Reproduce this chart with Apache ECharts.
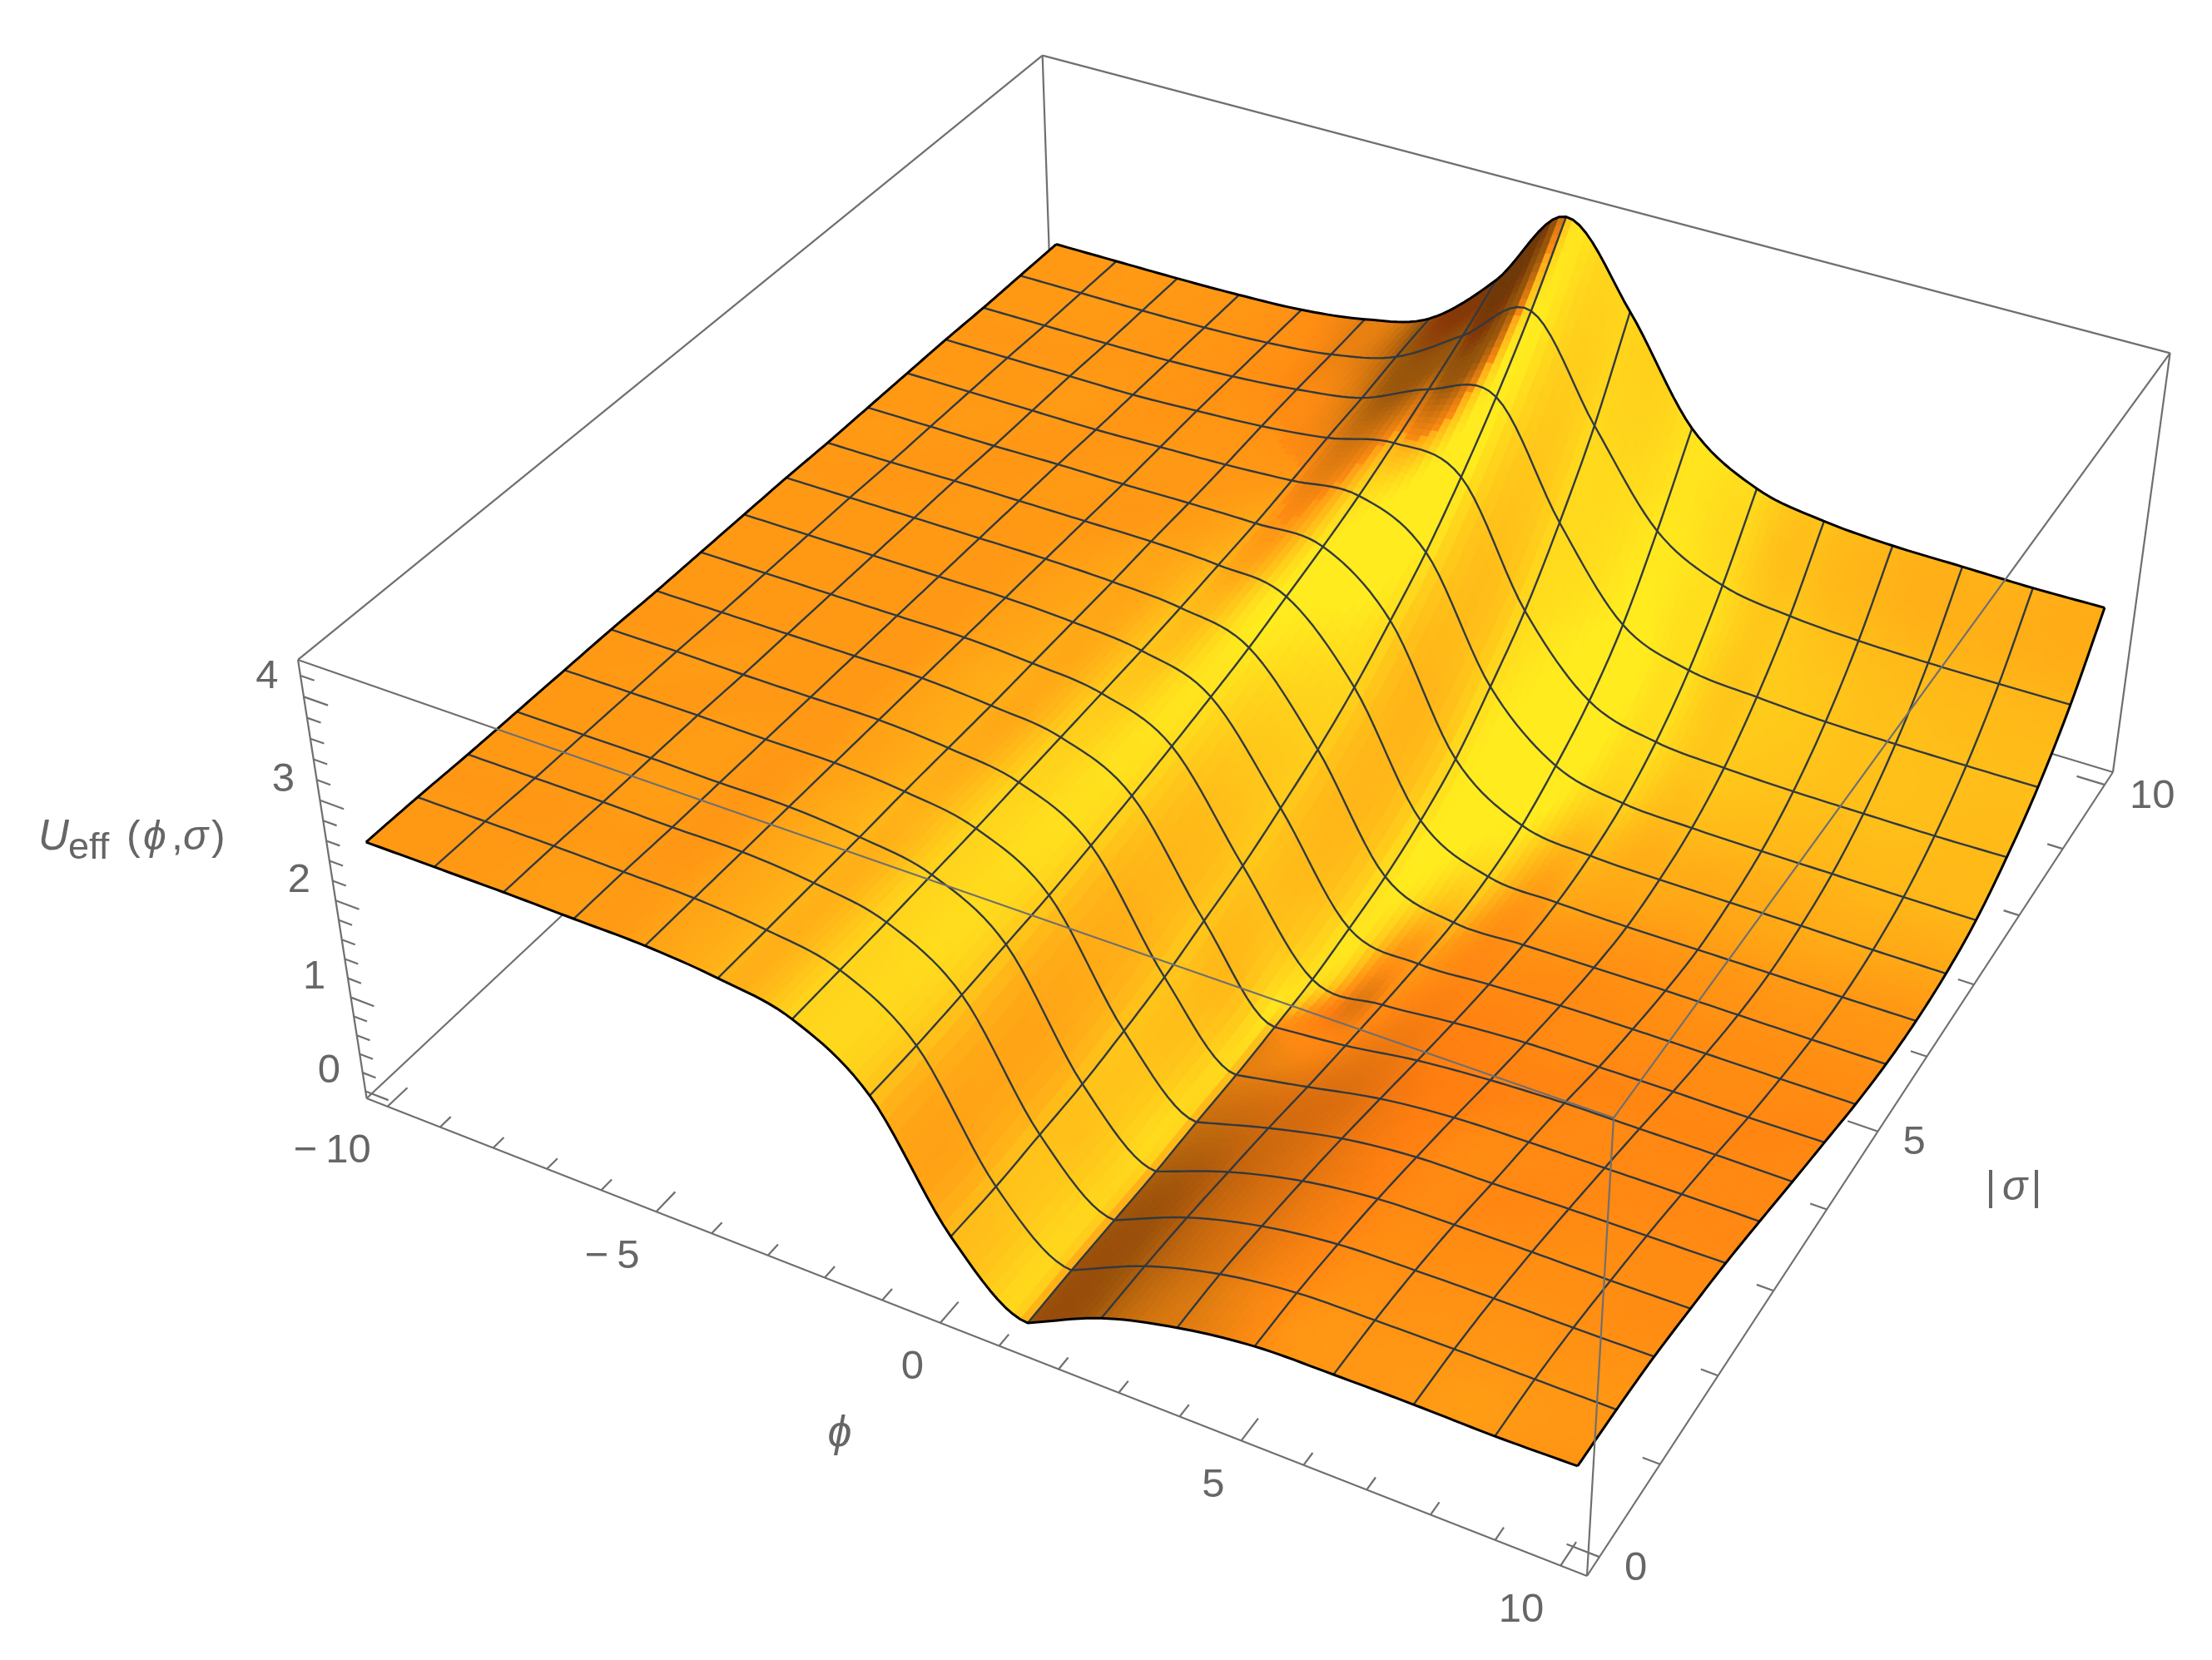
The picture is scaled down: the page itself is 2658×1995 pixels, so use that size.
<!DOCTYPE html>
<html><head><meta charset="utf-8">
<style>html,body{margin:0;padding:0;background:#fff}#c{width:2658px;height:1995px}</style>
<script src="https://cdn.jsdelivr.net/npm/echarts@6/dist/echarts.min.js"></script>
</head><body><div id="c"></div>
<script>
// ---- values: U_eff at the mesh nodes ----
const phiNodes = [-10,-8.75,-7.5,-6.25,-5,-3.75,-2.5,-1.25,0,1.25,2.5,3.75,5,6.25,7.5,8.75,10];
const sigmaNodes = [0,0.625,1.25,1.875,2.5,3.125,3.75,4.375,5,5.625,6.25,6.875,7.5,8.125,8.75,9.375,10];
const uRow00 = [2.52,2.52,2.52,2.51,2.50,2.44,2.30,1.81,0.655,0.046,0.40,0.606,0.72,0.74,0.746,0.74,0.757];
const uRow01 = [2.52,2.52,2.52,2.51,2.50,2.44,2.30,1.81,0.64,0.05,0.39,0.605,0.71,0.73,0.74,0.74,0.743];
const uRow02 = [2.51,2.51,2.51,2.50,2.50,2.44,2.30,1.83,0.66,0.04,0.36,0.56,0.665,0.69,0.70,0.70,0.71];
const uRow03 = [2.51,2.51,2.51,2.50,2.50,2.44,2.31,1.86,0.68,0.03,0.31,0.50,0.60,0.62,0.63,0.63,0.64];
const uRow04 = [2.51,2.51,2.51,2.50,2.50,2.45,2.32,1.89,0.74,0.04,0.255,0.425,0.51,0.52,0.54,0.55,0.56];
const uRow05 = [2.51,2.51,2.50,2.50,2.50,2.45,2.34,1.94,0.82,0.04,0.185,0.334,0.41,0.43,0.44,0.45,0.454];
const uRow06 = [2.50,2.50,2.50,2.50,2.50,2.45,2.36,2.00,0.94,0.06,0.128,0.238,0.30,0.33,0.335,0.34,0.34];
const uRow07 = [2.50,2.50,2.50,2.50,2.50,2.46,2.38,2.07,1.06,0.09,0.078,0.15,0.20,0.21,0.22,0.22,0.233];
const uRow08 = [2.50,2.50,2.50,2.50,2.50,2.47,2.40,2.15,1.22,0.17,0.04,0.077,0.11,0.12,0.125,0.125,0.127];
const uRow09 = [2.50,2.50,2.50,2.50,2.50,2.48,2.43,2.24,1.40,0.27,0.02,0.03,0.04,0.05,0.05,0.05,0.053];
const uRow10 = [2.49,2.49,2.50,2.50,2.50,2.50,2.47,2.36,1.63,0.43,0.06,0.024,0.012,0.017,0.02,0.02,0.026];
const uRow11 = [2.49,2.49,2.49,2.50,2.50,2.51,2.51,2.48,1.92,0.66,0.17,0.08,0.066,0.065,0.063,0.055,0.056];
const uRow12 = [2.49,2.49,2.49,2.49,2.51,2.53,2.57,2.62,2.24,1.02,0.386,0.21,0.18,0.17,0.168,0.164,0.164];
const uRow13 = [2.49,2.49,2.49,2.49,2.52,2.56,2.64,2.79,2.64,1.43,0.67,0.45,0.40,0.38,0.377,0.377,0.39];
const uRow14 = [2.48,2.48,2.48,2.49,2.52,2.58,2.69,2.98,3.10,1.98,1.09,0.815,0.75,0.71,0.70,0.70,0.705];
const uRow15 = [2.48,2.48,2.48,2.49,2.52,2.59,2.76,3.18,3.63,2.63,1.71,1.335,1.22,1.175,1.16,1.16,1.165];
const uRow16 = [2.48,2.48,2.48,2.49,2.52,2.61,2.81,3.41,4.25,3.46,2.43,1.99,1.85,1.80,1.79,1.78,1.79];
const uRows = [uRow00,uRow01,uRow02,uRow03,uRow04,uRow05,uRow06,uRow07,uRow08,uRow09,uRow10,uRow11,uRow12,uRow13,uRow14,uRow15,uRow16];

const phiMajorTicks = [-10,-5,0,5,10];
const phiMinorTicks = [-9,-8,-7,-6,-4,-3,-2,-1,1,2,3,4,6,7,8,9];
const sigmaMajorTicks = [0,5,10];
const sigmaMinorTicks = [1,2,3,4,6,7,8,9];
const zMajorTicks = [0,1,2,3,4];
const zMinorTicks = [0.2,0.4,0.6,0.8,1.2,1.4,1.6,1.8,2.2,2.4,2.6,2.8,3.2,3.4,3.6,3.8,4.2];
const phiTickLabels = ['\u2212\u200910','\u2212\u20095','0','5','10'];
const sigmaTickLabels = ['0','5','10'];
const zTickLabels = ['0','1','2','3','4'];

// ---- plot box and camera (perspective projection of the unit box) ----
const PHI_RANGE = [-10.4,10.4], SIGMA_RANGE = [-0.2,10.2], Z_RANGE = [-0.0775,4.349];
const CAMERA = [[1251.1,1095.9,-107.7,440.6],[360.2,-661.3,-582.7,1320],[-0.11288,0.21082,-0.07021,1]];
const AXIS_GRAY = '#6f6f6f', MESH = '#33393e', LABEL_GRAY = '#666666';
const SUB = 10;

const toU = p => (p-PHI_RANGE[0])/(PHI_RANGE[1]-PHI_RANGE[0]);
const toV = s => (s-SIGMA_RANGE[0])/(SIGMA_RANGE[1]-SIGMA_RANGE[0]);
const toW = z => (z-Z_RANGE[0])/(Z_RANGE[1]-Z_RANGE[0]);
function projectUnit(u,v,w){
  const C=CAMERA, d=C[2][0]*u+C[2][1]*v+C[2][2]*w+C[2][3];
  return [(C[0][0]*u+C[0][1]*v+C[0][2]*w+C[0][3])/d,(C[1][0]*u+C[1][1]*v+C[1][2]*w+C[1][3])/d];
}
const project = (p,s,z) => projectUnit(toU(p),toV(s),toW(z));

// smooth evaluation between nodes for drawing the surface
function cr(a,b,c,d,t){return 0.5*(2*b+(c-a)*t+(2*a-5*b+4*c-d)*t*t+(3*b-a-3*c+d)*t*t*t);}
function hermite(p0,p1,m0,m1,t){
  const t2=t*t,t3=t2*t;
  return (2*t3-3*t2+1)*p0+(t3-2*t2+t)*m0+(-2*t3+3*t2)*p1+(t3-t2)*m1;
}
function nodeZ(i,j){
  const n=uRows.length-1,m=phiNodes.length-1;
  const ci=Math.max(0,Math.min(n,i)),cj=Math.max(0,Math.min(m,j));
  let z=uRows[ci][cj];
  if(i<0) z=2*uRows[0][cj]-uRows[1][cj];
  if(i>n) z=2*uRows[n][cj]-uRows[n-1][cj];
  if(j<0) z+=uRows[ci][0]-uRows[ci][1];
  if(j>m) z+=uRows[ci][m]-uRows[ci][m-1];
  return z;
}
// along a row the trough is a crease: flat coming in, straight climb going out
const isTrough=(i,j)=>nodeZ(i,j-1)-nodeZ(i,j)>0.05&&nodeZ(i,j+1)-nodeZ(i,j)>0.05;
const tangentOut=(i,j)=>isTrough(i,j)?nodeZ(i,j+1)-nodeZ(i,j):(nodeZ(i,j+1)-nodeZ(i,j-1))/2;
const tangentIn=(i,j)=>isTrough(i,j)?0:(nodeZ(i,j+1)-nodeZ(i,j-1))/2;
function rowZ(i,j,s){
  return hermite(nodeZ(i,j),nodeZ(i,j+1),tangentOut(i,j),tangentIn(i,j+1),s);
}
function smoothZ(i,a,j,b){
  const t=a/SUB,s=b/SUB,col=[];
  if(a===0&&b===0) return uRows[i][j];
  for(let k=-1;k<=2;k++) col.push(b===0?nodeZ(i+k,j):rowZ(i+k,j,s));
  return a===0?col[1]:cr(col[0],col[1],col[2],col[3],t);
}
const NI=(uRows.length-1)*SUB, NJ=(phiNodes.length-1)*SUB;
const fineZ=[];
for(let I=0;I<=NI;I++){const r=[];for(let J=0;J<=NJ;J++){
  const i=Math.min(Math.floor(I/SUB),uRows.length-1),a=I-i*SUB;
  const j=Math.min(Math.floor(J/SUB),phiNodes.length-1),b=J-j*SUB;
  r.push(smoothZ(i,a,j,b));} fineZ.push(r);}
const phiAt = J => phiNodes[0]+(phiNodes[phiNodes.length-1]-phiNodes[0])*J/NJ;
const sigmaAt = I => sigmaNodes[0]+(sigmaNodes[sigmaNodes.length-1]-sigmaNodes[0])*I/NI;
const dPhi=(phiNodes[phiNodes.length-1]-phiNodes[0])/NJ, dSigma=(sigmaNodes[sigmaNodes.length-1]-sigmaNodes[0])/NI;
function lerpStops(s,stops){
  if(s<=stops[0][0]) return stops[0][1];
  for(let k=1;k<stops.length;k++) if(s<=stops[k][0]){
    const a=stops[k-1],b=stops[k];return a[1]+(b[1]-a[1])*(s-a[0])/(b[0]-a[0]);
  }
  return stops[stops.length-1][1];
}
const RED_STOPS=[[-1.26,0.43],[-0.5,0.61],[-0.1,1]];
function shade(I,J){
  const I0=I,I1=I+1,J0=J,J1=J+1;
  const Z=0.4/(Z_RANGE[1]-Z_RANGE[0]),X=1/(PHI_RANGE[1]-PHI_RANGE[0]),Y=1/(SIGMA_RANGE[1]-SIGMA_RANGE[0]);
  const zx=((fineZ[I0][J1]+fineZ[I1][J1])-(fineZ[I0][J0]+fineZ[I1][J0]))/(2*dPhi)*Z/X;
  const zy=((fineZ[I1][J0]+fineZ[I1][J1])-(fineZ[I0][J0]+fineZ[I0][J1]))/(2*dSigma)*Z/Y;
  const L=Math.hypot(zx,zy,1),nx=-zx/L,ny=-zy/L,nz=1/L;
  let G=-0.68+0.83*nx-0.64*ny+1.28*nz;
  if(G<0.6) G=0.6-(0.6-G)*0.53;
  G=Math.max(0.22,Math.min(0.92,G));
  const R=lerpStops(-zx,RED_STOPS);
  if(R<1) G=Math.min(G,R*0.55+(1-R)*0.02);
  const B=0.13*G;
  return 'rgb('+Math.round(R*255)+','+Math.round(G*255)+','+Math.round(B*255)+')';
}

// cells back to front
const cellData=[];
for(let i=uRows.length-2;i>=0;i--) for(let j=0;j<phiNodes.length-1;j++) cellData.push([j,i]);

function renderCell(params,api){
  const j=api.value(0),i=api.value(1),children=[];
  for(let a=SUB-1;a>=0;a--) for(let b=0;b<SUB;b++){
    const I=i*SUB+a,J=j*SUB+b;
    const pts=[[I,J],[I,J+1],[I+1,J+1],[I+1,J]].map(q=>api.coord(project(phiAt(q[1]),sigmaAt(q[0]),fineZ[q[0]][q[1]])));
    const c=shade(I,J);
    children.push({type:'polygon',shape:{points:pts},style:{fill:c,stroke:c,lineWidth:1}});
  }
  return {type:'group',children};
}

// mesh lines
const meshData=[];
for(let i=1;i<uRows.length-1;i++) meshData.push(['row',i]);
for(let j=1;j<phiNodes.length-1;j++) meshData.push(['col',j]);
const edgeData=[['row',0],['row',uRows.length-1],['col',0],['col',phiNodes.length-1]];
function linePoints(kind,k,api){
  const pts=[];
  if(kind==='row') for(let J=0;J<=NJ;J++) pts.push(api.coord(project(phiAt(J),sigmaNodes[k],fineZ[k*SUB][J])));
  else for(let I=0;I<=NI;I++) pts.push(api.coord(project(phiNodes[k],sigmaAt(I),fineZ[I][k*SUB])));
  return pts;
}
const renderMesh=(color,width)=>(params,api)=>{
  const d=(color===MESH?meshData:edgeData)[params.dataIndex];
  return {type:'polyline',shape:{points:linePoints(d[0],d[1],api)},style:{fill:'none',stroke:color,lineWidth:width,lineJoin:'round'}};
};

// box
const corner=(a,b,c)=>projectUnit(a,b,c);
const backEdges=[[[0,0,0],[1,0,0]],[[1,0,0],[1,1,0]],[[0,0,0],[0,1,0]],[[0,1,0],[1,1,0]],[[0,1,0],[0,1,1]],[[1,1,0],[1,1,1]],[[0,0,0],[0,0,1]],[[0,0,1],[0,1,1]],[[0,1,1],[1,1,1]]];
const frontEdges=[[[0,0,1],[1,0,1]],[[1,0,1],[1,1,1]],[[1,0,0],[1,0,1]]];
function segData(){
  const segs=[];
  backEdges.forEach(e=>segs.push([corner(...e[0]),corner(...e[1])]));
  const add=(p,q)=>segs.push([p,q]);
  phiMajorTicks.forEach(t=>add(projectUnit(toU(t),0,0),projectUnit(toU(t),0.024,0)));
  phiMinorTicks.forEach(t=>add(projectUnit(toU(t),0,0),projectUnit(toU(t),0.013,0)));
  sigmaMajorTicks.forEach(t=>add(projectUnit(1,toV(t),0),projectUnit(1-0.024,toV(t),0)));
  sigmaMinorTicks.forEach(t=>add(projectUnit(1,toV(t),0),projectUnit(1-0.013,toV(t),0)));
  zMajorTicks.forEach(t=>add(projectUnit(0,0,toW(t)),projectUnit(0.021,0,toW(t))));
  zMinorTicks.forEach(t=>add(projectUnit(0,0,toW(t)),projectUnit(0.012,0,toW(t))));
  return segs;
}
const backSegs=segData();
const frontSegs=frontEdges.map(e=>[corner(...e[0]),corner(...e[1])]);
const renderSeg=segs=>(params,api)=>{
  const s=segs[params.dataIndex],a=api.coord(s[0]),b=api.coord(s[1]);
  return {type:'line',shape:{x1:a[0],y1:a[1],x2:b[0],y2:b[1]},style:{stroke:AXIS_GRAY,lineWidth:2.2}};
};

// labels
const SANS="'Liberation Sans', Arial, sans-serif";
const labels=[];
phiMajorTicks.forEach((t,k)=>{const p=projectUnit(toU(t),0,0);labels.push({text:phiTickLabels[k],p:[p[0]-20,p[1]+54],align:'right',font:'49px '+SANS});});
sigmaMajorTicks.forEach((t,k)=>{const p=projectUnit(1,toV(t),0);labels.push({text:sigmaTickLabels[k],p:[p[0]+30,p[1]+14],align:'left',font:'49px '+SANS});});
zMajorTicks.forEach((t,k)=>{const p=projectUnit(0,0,toW(t));labels.push({text:zTickLabels[k],p:[p[0]-44,p[1]-24],align:'center',font:'49px '+SANS});});
labels.push({text:'\u03d5',p:[1009,1724],align:'center',font:'italic 52px '+SANS});
labels.push({text:'|',p:[2392,1428],align:'center',font:'50px '+SANS});
labels.push({text:'\u03c3',p:[2421,1428],align:'center',font:'italic 50px '+SANS});
labels.push({text:'|',p:[2447,1428],align:'center',font:'50px '+SANS});
labels.push({text:'U',p:[46,1007],align:'left',font:'italic 51px '+SANS});
labels.push({text:'eff',p:[82,1020],align:'left',font:'45px '+SANS});
labels.push({text:'(',p:[152,1007],align:'left',font:'50px '+SANS});
labels.push({text:'\u03d5',p:[172,1007],align:'left',font:'italic 50px '+SANS});
labels.push({text:',',p:[206,1007],align:'left',font:'50px '+SANS});
labels.push({text:'\u03c3',p:[220,1007],align:'left',font:'italic 50px '+SANS});
labels.push({text:')',p:[254,1007],align:'left',font:'50px '+SANS});
const renderLabel=(params,api)=>{
  const l=labels[params.dataIndex],a=api.coord(l.p);
  return {type:'text',x:a[0],y:a[1],style:{text:l.text,font:l.font,fill:LABEL_GRAY,align:l.align,verticalAlign:'middle'}};
};
const idx=arr=>arr.map((_,k)=>[k,0]);

const chart=echarts.init(document.getElementById('c'),null,{renderer:'canvas'});
chart.setOption({
  animation:false,backgroundColor:'#fff',
  grid:{left:0,right:0,top:0,bottom:0},
  xAxis:{type:'value',min:0,max:2658,show:false},
  yAxis:{type:'value',min:0,max:1995,inverse:true,show:false},
  tooltip:{show:false},
  series:[
    {type:'custom',name:'box',coordinateSystem:'cartesian2d',silent:true,clip:false,z:1,renderItem:renderSeg(backSegs),data:idx(backSegs)},
    {type:'custom',name:'surface',coordinateSystem:'cartesian2d',silent:true,clip:false,z:2,renderItem:renderCell,data:cellData,progressive:0},
    {type:'custom',name:'mesh',coordinateSystem:'cartesian2d',silent:true,clip:false,z:3,renderItem:renderMesh(MESH,2.4),data:idx(meshData)},
    {type:'custom',name:'edge',coordinateSystem:'cartesian2d',silent:true,clip:false,z:4,renderItem:renderMesh('#000',3),data:idx(edgeData)},
    {type:'custom',name:'boxFront',coordinateSystem:'cartesian2d',silent:true,clip:false,z:5,renderItem:renderSeg(frontSegs),data:idx(frontSegs)},
    {type:'custom',name:'labels',coordinateSystem:'cartesian2d',silent:true,clip:false,z:6,renderItem:renderLabel,data:idx(labels)}
  ]
});
</script></body></html>
